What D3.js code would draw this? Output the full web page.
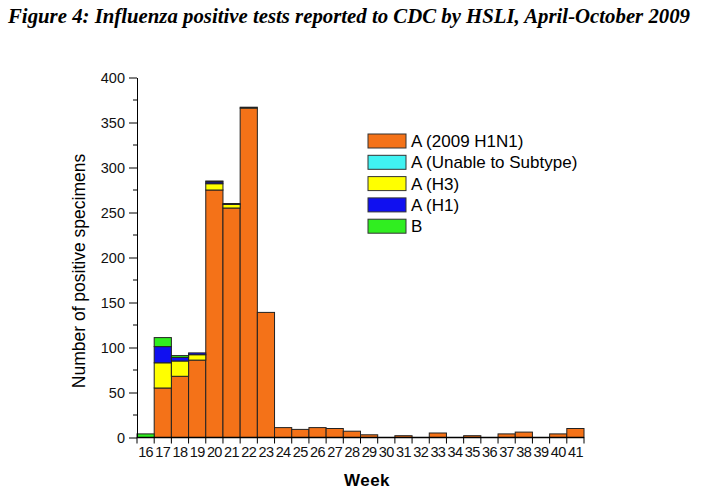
<!DOCTYPE html>
<html>
<head>
<meta charset="utf-8">
<script src="https://cdn.jsdelivr.net/npm/d3@7"></script>
<style>
  body { margin: 0; background: #fff; }
  svg { display: block; }
</style>
</head>
<body>
<div id="chart"></div>
<script>
// weeks 16..41, stacked counts by type
const WEEKS = d3.range(16, 42).map(String);
const H1N1_2009 = [0, 55, 68, 86, 275, 255, 366, 139, 11, 9, 11, 10, 7, 3, 0, 2, 0, 5, 0, 2, 0, 4, 6, 0, 4, 10];
const UNSUBTYPED = [0, 0, 0, 0, 0, 0, 0, 0, 0, 0, 0, 0, 0, 0, 0, 0, 0, 0, 0, 0, 0, 0, 0, 0, 0, 0];
const H3 = [0, 28, 17, 6, 7, 4, 1, 0, 0, 0, 0, 0, 0, 0, 0, 0, 0, 0, 0, 0, 0, 0, 0, 0, 0, 0];
const H1 = [0, 18, 4, 2, 2, 1, 0, 0, 0, 0, 0, 0, 0, 0, 0, 0, 0, 0, 0, 0, 0, 0, 0, 0, 0, 0];
const B = [4, 10, 2, 0, 1, 0, 0, 0, 0, 0, 0, 0, 0, 0, 0, 0, 0, 0, 0, 0, 0, 0, 0, 0, 0, 0];
const SERIES = ['A (2009 H1N1)', 'A (Unable to Subtype)', 'A (H3)', 'A (H1)', 'B'];
const SERIES_VALUES = [H1N1_2009, UNSUBTYPED, H3, H1, B];
const COLORS = ['#f47218', '#40f2f2', '#ffff00', '#1010f0', '#30ee20'];
const Y_TICKS = [0, 50, 100, 150, 200, 250, 300, 350, 400];

const W = 722, H = 499;
const X0 = 137, X1 = 584, Y0 = 437.5, Y1 = 77.5;
const SANS = 'Arial, "Liberation Sans", sans-serif';

const svg = d3.select('#chart').append('svg').attr('width', W).attr('height', H);

svg.append('text').attr('x', 8).attr('y', 23)
  .attr('textLength', 682).attr('lengthAdjust', 'spacingAndGlyphs')
  .style('font-family', '"Liberation Serif", "Times New Roman", serif')
  .style('font-size', '20px').style('font-weight', 'bold').style('font-style', 'italic')
  .text('Figure 4: Influenza positive tests reported to CDC by HSLI, April-October 2009');

const x = d3.scaleBand().domain(WEEKS).range([X0, X1]).padding(0);
const y = d3.scaleLinear().domain([0, 400]).range([Y0, Y1]);

const rows = WEEKS.map((w, i) => {
  const o = { week: w };
  SERIES.forEach((s, k) => o[s] = SERIES_VALUES[k][i]);
  return o;
});
const stacked = d3.stack().keys(SERIES)(rows);

const bars = svg.append('g');
stacked.forEach((layer, k) => {
  bars.selectAll(null).data(layer.filter(d => d[1] > d[0])).enter().append('rect')
    .attr('x', d => x(d.data.week))
    .attr('y', d => y(d[1]))
    .attr('width', x.bandwidth())
    .attr('height', d => y(d[0]) - y(d[1]))
    .attr('fill', COLORS[k])
    .attr('stroke', '#222').attr('stroke-width', 1);
});

// y axis with minor ticks
const yAxis = svg.append('g').attr('transform', `translate(${X0},0)`);
yAxis.call(d3.axisLeft(y).tickValues(Y_TICKS).tickSize(8).tickSizeOuter(0).tickPadding(4))
  .call(g => g.selectAll('text').style('font-family', SANS).style('font-size', '14.5px').attr('fill', '#111'));
yAxis.selectAll(null).data(d3.range(25, 400, 50)).enter().append('line')
  .attr('x1', 0).attr('x2', -4).attr('y1', d => y(d)).attr('y2', d => y(d)).attr('stroke', '#000');

// x axis: ticks at bar edges, labels centered
const xAxis = svg.append('g').attr('transform', `translate(0,${Y0})`);
xAxis.append('line').attr('x1', X0).attr('x2', X1).attr('stroke', '#000').attr('stroke-width', 1.5);
xAxis.selectAll(null).data(WEEKS.concat(['end'])).enter().append('line')
  .attr('x1', (d, i) => i < WEEKS.length ? x(d) : X1)
  .attr('x2', (d, i) => i < WEEKS.length ? x(d) : X1)
  .attr('y1', 0).attr('y2', 6).attr('stroke', '#000');
xAxis.selectAll(null).data(WEEKS).enter().append('text')
  .attr('x', d => x(d) + x.bandwidth() / 2).attr('y', 19)
  .attr('text-anchor', 'middle')
  .style('font-family', SANS).style('font-size', '14.5px')
  .style('letter-spacing', '-0.6px').attr('fill', '#111')
  .text(d => d);

svg.append('text').attr('x', 367).attr('y', 486).attr('text-anchor', 'middle')
  .style('font-family', SANS).style('font-size', '17px').style('font-weight', 'bold')
  .style('letter-spacing', '0.5px')
  .text('Week');

svg.append('text').attr('transform', 'translate(85,271) rotate(-90)')
  .attr('text-anchor', 'middle')
  .style('font-family', SANS).style('font-size', '17.5px')
  .text('Number of positive specimens');

// legend
const leg = svg.append('g').attr('transform', 'translate(368,134)');
SERIES.forEach((s, k) => {
  leg.append('rect').attr('x', 0).attr('y', k * 21.3).attr('width', 38).attr('height', 14)
    .attr('fill', COLORS[k]).attr('stroke', '#333').attr('stroke-width', 1);
  leg.append('text').attr('x', 43).attr('y', k * 21.3 + 13)
    .style('font-family', SANS).style('font-size', '17px')
    .text(s);
});
</script>
</body>
</html>
